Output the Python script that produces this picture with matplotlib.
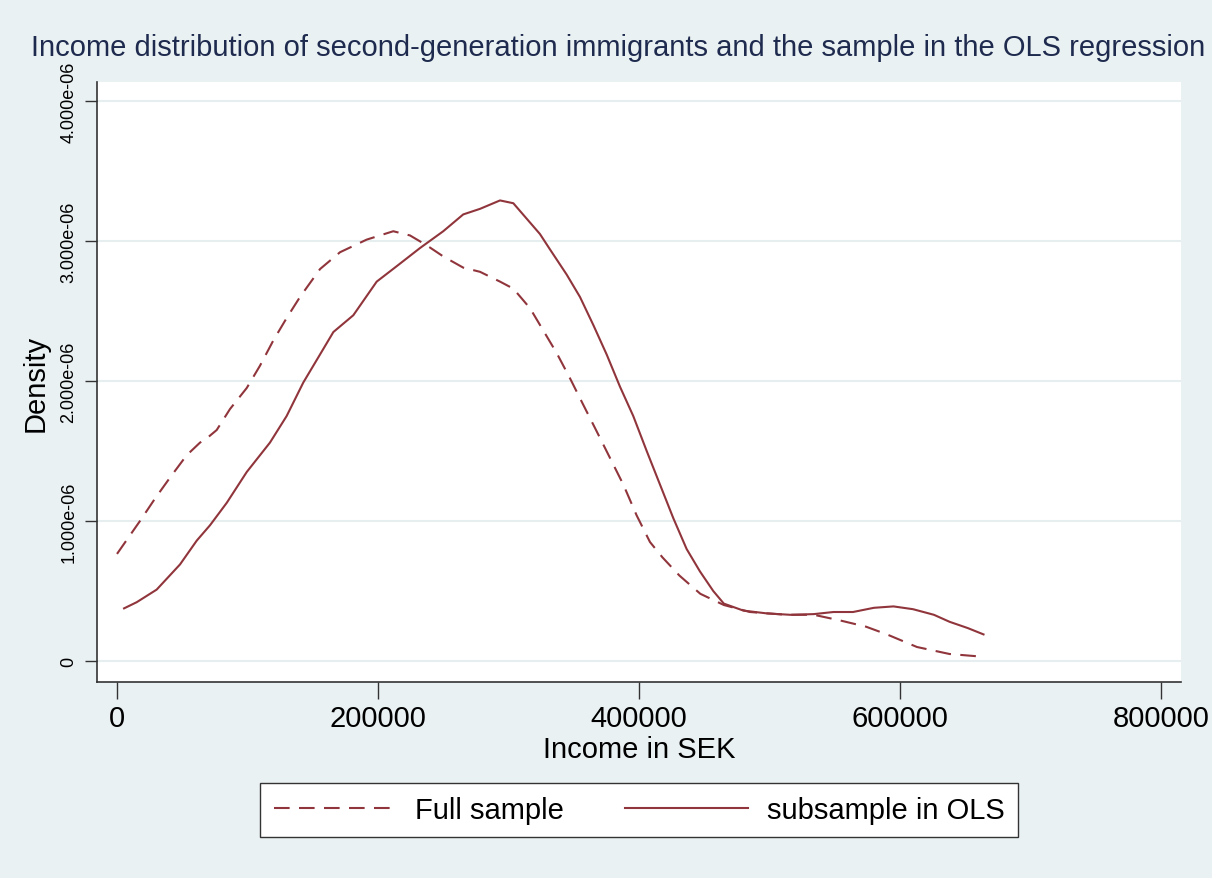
import matplotlib
matplotlib.use('Agg')
import matplotlib.pyplot as plt

# kernel density estimates (income in SEK, density in 1e-6)
full_x = [0, 17600, 29100, 40600, 53400, 63600, 68700, 76400, 86600, 99400,
          109600, 119800, 130000, 140200, 155600, 170900, 191300, 211700,
          224500, 237200, 250000, 265300, 278200, 293500, 303700, 316500,
          326700, 336900, 347100, 357300, 367600, 377800, 388000, 398200,
          408400, 418000, 431000, 447000, 465000, 485000, 513000, 534000,
          554000, 574000, 590000, 613000, 638000, 664000]
full_y = [0.765, 1.00, 1.16, 1.31, 1.47, 1.56, 1.59, 1.65, 1.80, 1.95,
          2.11, 2.29, 2.45, 2.60, 2.80, 2.92, 3.01, 3.07,
          3.04, 2.97, 2.89, 2.81, 2.78, 2.71, 2.66, 2.52,
          2.36, 2.20, 2.02, 1.83, 1.64, 1.45, 1.26, 1.04,
          0.85, 0.74, 0.61, 0.48, 0.40, 0.35, 0.33, 0.33,
          0.29, 0.245, 0.19, 0.10, 0.05, 0.03]

ols_x = [5400, 15100, 30400, 48300, 61100, 71300, 84100, 99400, 117200, 130000,
         142800, 155600, 165800, 181100, 199000, 214300, 232200, 250000,
         265300, 278200, 293500, 303700, 313900, 324100, 331800, 344600,
         354800, 365000, 375200, 385400, 395600, 405900, 416100, 426300,
         436500, 446700, 456900, 465000, 480000, 498000, 516000, 534000,
         549000, 564000, 580000, 595000, 610000, 626000, 638000, 652000, 664000]
ols_y = [0.376, 0.42, 0.51, 0.69, 0.86, 0.97, 1.13, 1.35, 1.56, 1.75,
         1.99, 2.19, 2.35, 2.47, 2.71, 2.82, 2.95, 3.07,
         3.19, 3.23, 3.29, 3.27, 3.16, 3.05, 2.94, 2.76,
         2.60, 2.40, 2.19, 1.96, 1.75, 1.50, 1.26, 1.02,
         0.80, 0.64, 0.50, 0.41, 0.36, 0.34, 0.33, 0.335,
         0.35, 0.35, 0.38, 0.39, 0.37, 0.33, 0.28, 0.235, 0.19]

x_ticks = [0, 200000, 400000, 600000, 800000]
y_ticks = [0, 1e-6, 2e-6, 3e-6, 4e-6]
y_tick_labels = ['0', '1.000e-06', '2.000e-06', '3.000e-06', '4.000e-06']

bg = '#EAF1F3'
maroon = '#90353B'
plt.rcParams['font.family'] = ['Liberation Sans', 'DejaVu Sans']

fig = plt.figure(figsize=(12.12, 8.79), dpi=100, facecolor=bg)
ax = fig.add_axes([97 / 1212, 1 - 683 / 879, 1084 / 1212, 600 / 879])
ax.set_facecolor('white')

ax.plot(full_x, [v * 1e-6 for v in full_y], color=maroon, lw=1.5,
        linestyle=(0, (7.5, 4.5)), label='Full sample')
ax.plot(ols_x, [v * 1e-6 for v in ols_y], color=maroon, lw=1.5,
        label='subsample in OLS')

ax.set_xlim(-15326, 815326)
ax.set_ylim(-0.15e-6, 4.136e-6)

ax.set_xticks(x_ticks)
ax.set_xticklabels([str(t) for t in x_ticks], fontsize=21)
ax.set_yticks(y_ticks)
ax.set_yticklabels(y_tick_labels, fontsize=13, rotation=90, va='center')
ax.tick_params(axis='x', length=12, width=1, color='#333333', pad=4)
ax.tick_params(axis='y', length=9, width=1, color='#333333', pad=5)

ax.grid(axis='y', color='#E6EEF0', lw=1.5)
ax.set_axisbelow(True)

for s in ['top', 'right']:
    ax.spines[s].set_visible(False)
for s in ['left', 'bottom']:
    ax.spines[s].set_color('#333333')
    ax.spines[s].set_linewidth(1.2)

ax.set_xlabel('Income in SEK', fontsize=21, labelpad=2)
ax.set_ylabel('Density', fontsize=21, labelpad=8)

fig.text(618 / 1212, 1 - 48 / 879,
         'Income distribution of second-generation immigrants and the sample in the OLS regression',
         fontsize=21, color='#1E2B4E', ha='center', va='center')

leg = ax.legend(loc='center', bbox_to_anchor=(0.5, -0.2133), ncol=2,
                fontsize=21, frameon=True, fancybox=False, edgecolor='#333333',
                facecolor='white', framealpha=1,
                handlelength=4.2, handletextpad=0.65, columnspacing=2.1,
                borderpad=0.45)
leg.get_frame().set_linewidth(1.0)

fig.savefig('out.png', dpi=100, facecolor=bg)
